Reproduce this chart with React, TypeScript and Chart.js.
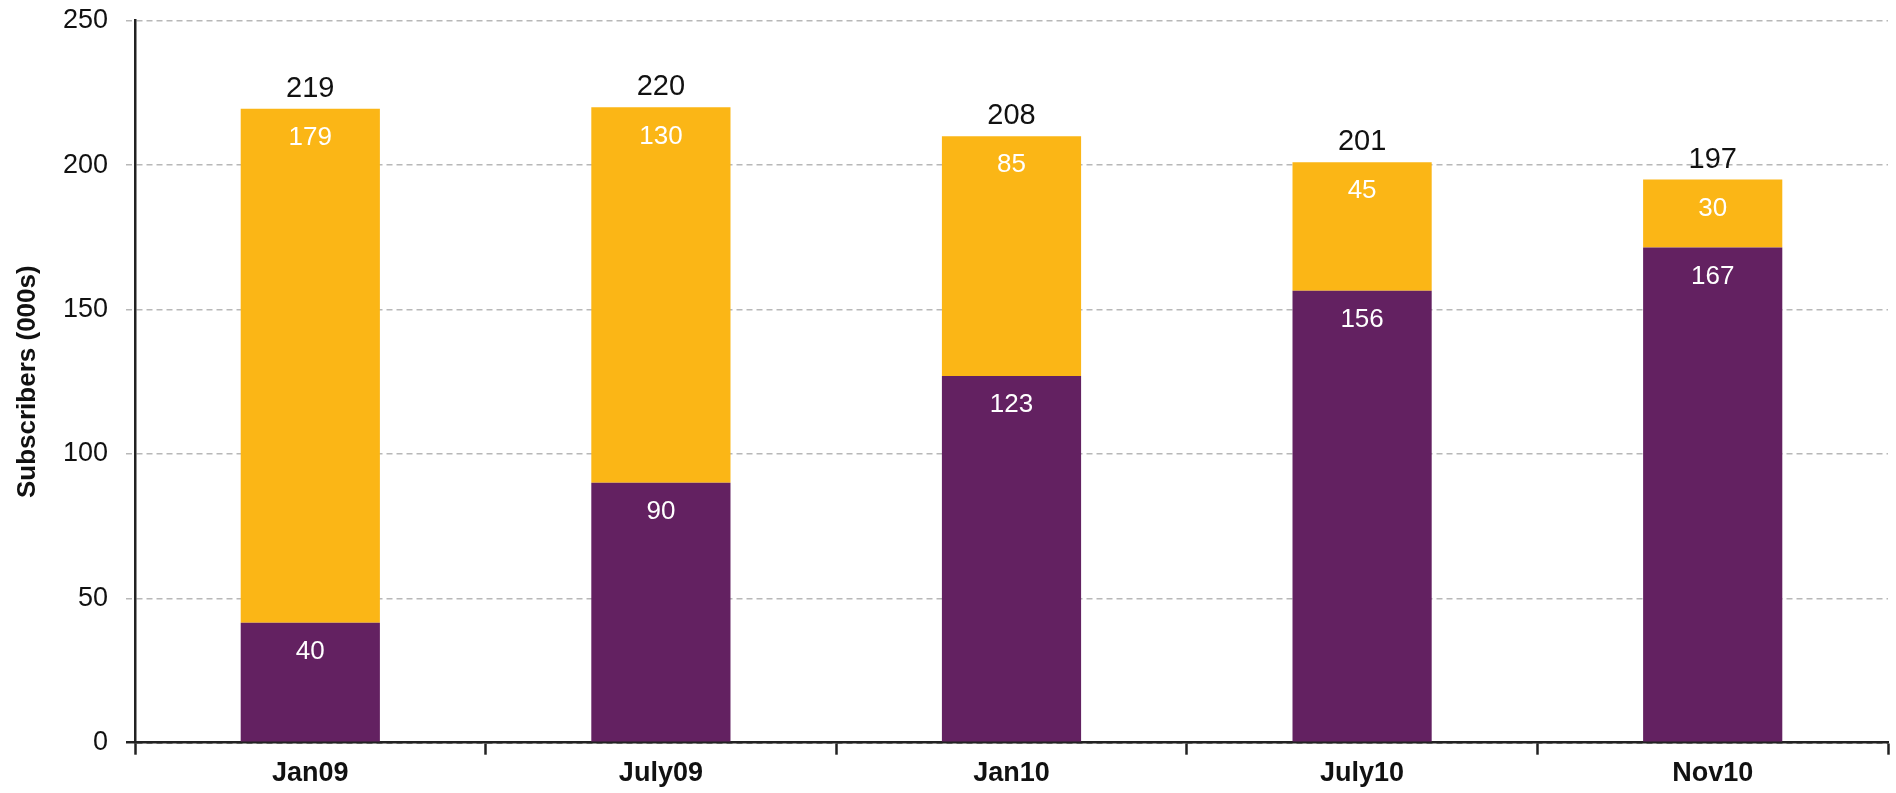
import React, { useEffect, useRef } from "react";
import { Chart, registerables } from "chart.js";

Chart.register(...registerables);

const categories = ["Jan09", "July09", "Jan10", "July10", "Nov10"];
// Bar segment heights as drawn in the picture
const purpleValues = [41.5, 90, 127, 156.5, 171.5];
const yellowValues = [178, 130, 83, 44.5, 23.5];
// Printed labels
const purpleLabels = ["40", "90", "123", "156", "167"];
const yellowLabels = ["179", "130", "85", "45", "30"];
const totalLabels = ["219", "220", "208", "201", "197"];
const yTicks = [0, 50, 100, 150, 200, 250];

const FONT = "'Liberation Sans', Arial, Helvetica, sans-serif";
const PURPLE = "#632161";
const YELLOW = "#FBB616";

const labelPlugin = {
  id: "barLabels",
  afterDatasetsDraw(chart: any) {
    const ctx = chart.ctx;
    ctx.save();
    ctx.textAlign = "center";
    ctx.textBaseline = "middle";
    const sets = [purpleLabels, yellowLabels];
    chart.data.datasets.forEach((_: any, di: number) => {
      const meta = chart.getDatasetMeta(di);
      meta.data.forEach((bar: any, i: number) => {
        ctx.fillStyle = "#ffffff";
        ctx.font = `26px ${FONT}`;
        ctx.fillText(sets[di][i], bar.x, bar.y + 29);
        if (di === chart.data.datasets.length - 1) {
          ctx.fillStyle = "#111111";
          ctx.font = `29px ${FONT}`;
          ctx.fillText(totalLabels[i], bar.x, bar.y - 20);
        }
      });
    });
    ctx.restore();
  },
};

export default function App() {
  const ref = useRef<HTMLCanvasElement | null>(null);
  useEffect(() => {
    if (!ref.current) return;
    const chart = new Chart(ref.current, {
      type: "bar",
      data: {
        labels: categories,
        datasets: [
          {
            label: "Purple",
            data: purpleValues,
            backgroundColor: PURPLE,
            borderWidth: 0,
            categoryPercentage: 1,
            barPercentage: 0.397,
          },
          {
            label: "Yellow",
            data: yellowValues,
            backgroundColor: YELLOW,
            borderWidth: 0,
            categoryPercentage: 1,
            barPercentage: 0.397,
          },
        ],
      },
      options: {
        animation: false,
        responsive: true,
        maintainAspectRatio: false,
        layout: { padding: { top: 20.7, right: 8, bottom: 0, left: 0 } },
        plugins: {
          legend: { display: false },
          tooltip: { enabled: false },
        },
        scales: {
          x: {
            stacked: true,
            afterFit: (scale: any) => {
              scale.height = 50.3;
            },
            grid: {
              display: true,
              drawOnChartArea: false,
              drawTicks: true,
              tickLength: 12,
              tickColor: "#222222",
              tickWidth: 2.5,
              offset: true,
            },
            border: { display: true, color: "#222222", width: 2.5 },
            ticks: {
              font: { family: FONT, size: 27, weight: "bold" },
              color: "#111111",
              padding: 3,
            },
          },
          y: {
            stacked: true,
            min: 0,
            max: 250,
            afterBuildTicks: (scale: any) => {
              scale.ticks = yTicks.map((v) => ({ value: v }));
            },
            afterFit: (scale: any) => {
              scale.width = 135;
              scale.paddingTop = 0;
              scale.paddingBottom = 0;
            },
            ticks: {
              font: { family: FONT, size: 27, lineHeight: 1 },
              color: "#111111",
              padding: 18,
            },
            grid: {
              color: (c: any) => (c.tick && c.tick.value === 0 ? "#222222" : "#b8b8b8"),
              lineWidth: (c: any) => (c.tick && c.tick.value === 0 ? 2.5 : 1.5),
              tickLength: 9,
              tickBorderDash: (c: any) => (c.tick && c.tick.value === 0 ? [] : [6, 4]),
            },
            border: { display: true, color: "#222222", width: 2.5, dash: [6, 4] },
            title: {
              display: true,
              text: "Subscribers (000s)",
              font: { family: FONT, size: 26, weight: "bold" },
              color: "#111111",
              padding: { top: 12, bottom: 0 },
            },
          },
        },
      },
      plugins: [labelPlugin],
    } as any);
    return () => chart.destroy();
  }, []);

  return (
    <div
      style={{
        position: "fixed",
        left: 0,
        top: 0,
        width: "1896px",
        height: "793px",
        background: "#ffffff",
      }}
    >
      <canvas ref={ref} />
    </div>
  );
}
